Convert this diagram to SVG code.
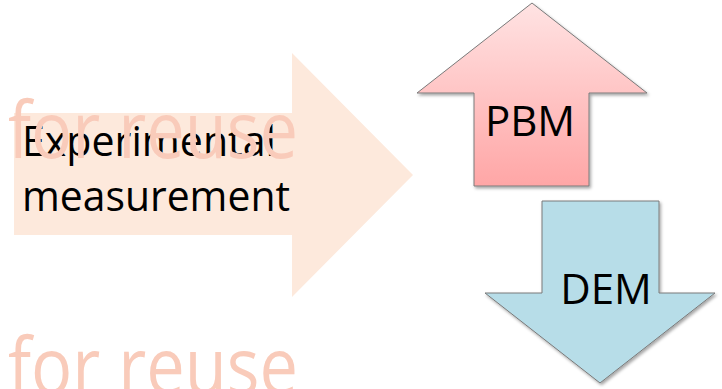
<svg xmlns="http://www.w3.org/2000/svg" width="722" height="389" viewBox="0 0 722 389">
  <style>
    .label { font-family: "Open Sans", "Noto Sans", "Liberation Sans", sans-serif; fill: #000; }
    .mark { font-family: "Open Sans", "Noto Sans", "Liberation Sans", sans-serif; fill: #f9cbba; font-size: 78px; }
    .block { stroke: #7a7a7a; stroke-width: 1; filter: url(#shadow); }
  </style>
  <defs>
    <linearGradient id="pinkFill" x1="0" y1="0" x2="0" y2="1">
      <stop offset="0" stop-color="#ffe3e3"/>
      <stop offset="1" stop-color="#ffa6a6"/>
    </linearGradient>
    <filter id="shadow" x="-10%" y="-10%" width="130%" height="130%">
      <feDropShadow dx="1.5" dy="2" stdDeviation="1.5" flood-color="#000" flood-opacity="0.35"/>
    </filter>
  </defs>

  <!-- large right-pointing arrow with its caption -->
  <g id="experimental">
    <polygon points="14,113 292,113 292,53 413,175 292,297 292,235 14,235" fill="#fde9dc"/>
    <text class="label" font-size="42" x="22" y="156" textLength="254" lengthAdjust="spacingAndGlyphs">Experimental</text>
    <text class="label" font-size="42" x="22" y="211" textLength="268" lengthAdjust="spacingAndGlyphs">measurement</text>
  </g>

  <!-- up arrow -->
  <g id="pbm">
    <polygon class="block" points="532,3 647,93 589,93 589,186 474,186 474,93 417,93" fill="url(#pinkFill)"/>
    <text class="label" font-size="42" x="530" y="136" text-anchor="middle">PBM</text>
  </g>

  <!-- down arrow -->
  <g id="dem">
    <polygon class="block" points="542,201 659,201 659,293 715,293 600,383 485,293 542,293" fill="#b7dde8"/>
    <text class="label" font-size="42" x="606" y="304" text-anchor="middle">DEM</text>
  </g>

  <!-- overlay lettering -->
  <g id="watermarks">
    <text class="mark" x="8" y="158" textLength="290" lengthAdjust="spacingAndGlyphs">for reuse</text>
    <text class="mark" x="8" y="394" textLength="290" lengthAdjust="spacingAndGlyphs">for reuse</text>
  </g>
</svg>
